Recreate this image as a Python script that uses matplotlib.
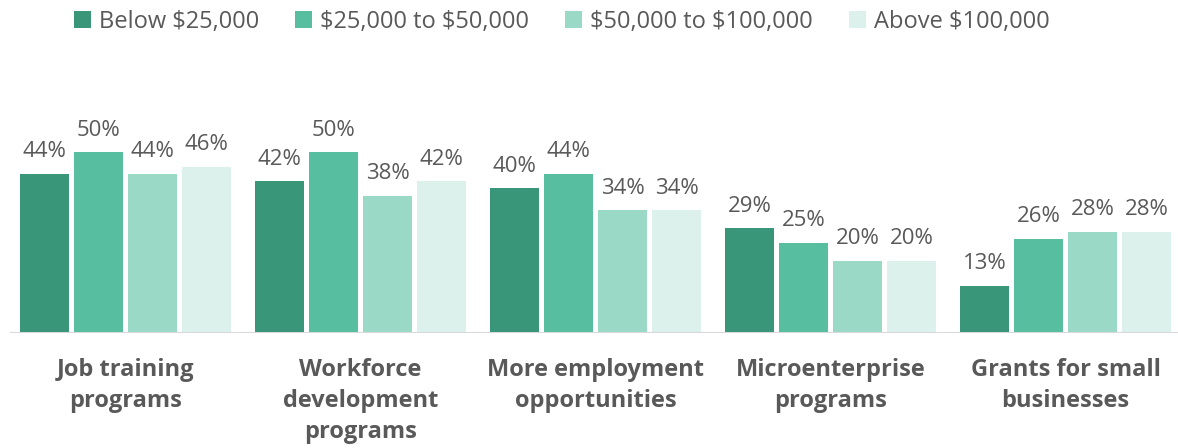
import matplotlib.pyplot as plt
import numpy as np

plt.rcParams["font.family"] = ["Open Sans", "DejaVu Sans"]

categories = [
    "Job training\nprograms",
    "Workforce\ndevelopment\nprograms",
    "More employment\nopportunities",
    "Microenterprise\nprograms",
    "Grants for small\nbusinesses",
]
income_groups = [r"Below \$25,000", r"\$25,000 to \$50,000", r"\$50,000 to \$100,000", r"Above \$100,000"]
below_25k = [44, 42, 40, 29, 13]
from_25k_to_50k = [50, 50, 44, 25, 26]
from_50k_to_100k = [44, 38, 34, 20, 28]
above_100k = [46, 42, 34, 20, 28]

COLORS = ["#3a9679", "#57bf9f", "#9bd9c7", "#dcf1eb"]
TEXT_GREY = "#595959"

series = [below_25k, from_25k_to_50k, from_50k_to_100k, above_100k]

fig = plt.figure(figsize=(11.78, 4.48), dpi=100)
ax = fig.add_axes([0.0, 0.2567, 1.0, 0.484])

x = np.arange(len(categories))
step = 0.2298
width = 0.2085
for i, (vals, label, color) in enumerate(zip(series, income_groups, COLORS)):
    pos = x + (i - 1.5) * step
    bars = ax.bar(pos, vals, width=width, color=color, label=label, zorder=2)
    for b, v in zip(bars, vals):
        ax.text(b.get_x() + b.get_width() / 2, v + 3.2, f"{v}%",
                ha="center", va="bottom", fontsize=16, color=TEXT_GREY)

ax.set_xlim(-0.534, 4.479)
ax.set_ylim(0, 60)
ax.axhline(0, xmin=0.009, xmax=1, color="#d9d9d9", lw=2.2, zorder=3)

ax.set_xticks(x)
ax.set_xticklabels(categories, fontsize=17, fontweight="bold", color=TEXT_GREY,
                   linespacing=1.38, va="top")
ax.tick_params(axis="x", length=0, pad=18)
ax.set_yticks([])
for s in ax.spines.values():
    s.set_visible(False)

fig.legend(loc="center left", bbox_to_anchor=(0.0487, 0.951), ncol=4, frameon=False,
           fontsize=17, labelcolor=TEXT_GREY, handlelength=0.72, handleheight=0.72,
           handletextpad=0.34, columnspacing=1.53, borderpad=0.2)

fig.savefig("out.png", dpi=100)
